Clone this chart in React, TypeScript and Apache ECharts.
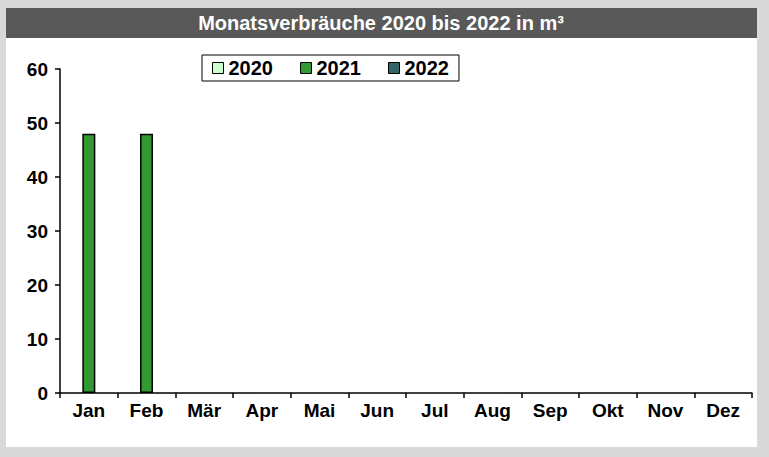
import React, { useEffect, useRef } from "react";
import * as echarts from "echarts";

const months = ["Jan", "Feb", "Mär", "Apr", "Mai", "Jun", "Jul", "Aug", "Sep", "Okt", "Nov", "Dez"];
const years = ["2020", "2021", "2022"];
const values2020: (number | null)[] = [null, null, null, null, null, null, null, null, null, null, null, null];
const values2021: (number | null)[] = [48, 48, null, null, null, null, null, null, null, null, null, null];
const values2022: (number | null)[] = [null, null, null, null, null, null, null, null, null, null, null, null];
const colors = ["#ccffcc", "#339933", "#336666"];
const yTicks = [0, 10, 20, 30, 40, 50, 60];

export default function App() {
  const ref = useRef<HTMLDivElement>(null);
  useEffect(() => {
    const chart = echarts.init(ref.current!, null, { renderer: "svg" });
    const font = "Arial, 'Liberation Sans', sans-serif";
    const data = [values2020, values2021, values2022];
    chart.setOption({
      animation: false,
      backgroundColor: "#d9d9d9",
      textStyle: { fontFamily: font },
      graphic: [
        { type: "rect", shape: { x: 6, y: 8, width: 751, height: 439 }, style: { fill: "#ffffff" }, z: -10 },
        { type: "rect", shape: { x: 6, y: 8, width: 751, height: 30 }, style: { fill: "#595959" }, z: -9 },
      ],
      title: {
        text: "Monatsverbräuche 2020 bis 2022 in m³",
        left: 381,
        textAlign: "center",
        top: 11,
        padding: 0,
        textStyle: { color: "#ffffff", fontSize: 20, fontWeight: "bold", fontFamily: font, lineHeight: 24 },
      },
      legend: {
        data: years,
        left: 202,
        top: 55,
        padding: [3, 10, 3, 10],
        itemGap: 27,
        itemWidth: 11,
        itemHeight: 11,
        icon: "rect",
        borderColor: "#000",
        borderWidth: 1,
        borderRadius: 0,
        backgroundColor: "#fff",
        textStyle: { fontSize: 20, fontWeight: "bold", color: "#000", fontFamily: font },
        itemStyle: { borderColor: "#000", borderWidth: 1 },
      },
      grid: { left: 60, right: 17, top: 69, bottom: 64 },
      xAxis: {
        type: "category",
        data: months,
        axisLine: { lineStyle: { color: "#000", width: 1.5 } },
        axisTick: { show: true, length: 5, lineStyle: { color: "#000", width: 1.5 } },
        axisLabel: { color: "#000", fontSize: 19, fontWeight: "bold", margin: 8, fontFamily: font },
      },
      yAxis: {
        type: "value",
        min: yTicks[0],
        max: yTicks[yTicks.length - 1],
        interval: 10,
        axisLine: { show: true, lineStyle: { color: "#000", width: 1.5 } },
        axisTick: { show: true, length: 5, lineStyle: { color: "#000", width: 1.5 } },
        splitLine: { show: false },
        axisLabel: { color: "#000", fontSize: 19, fontWeight: "bold", margin: 12, fontFamily: font },
      },
      series: years.map((y, i) => ({
        name: y,
        type: "bar",
        data: data[i],
        barWidth: 13,
        barGap: "0%",
        itemStyle: { color: colors[i], borderColor: "#000", borderWidth: 1.5 },
      })),
    });
    return () => chart.dispose();
  }, []);
  return <div ref={ref} style={{ position: "fixed", left: 0, top: 0, width: 769, height: 457 }} />;
}
